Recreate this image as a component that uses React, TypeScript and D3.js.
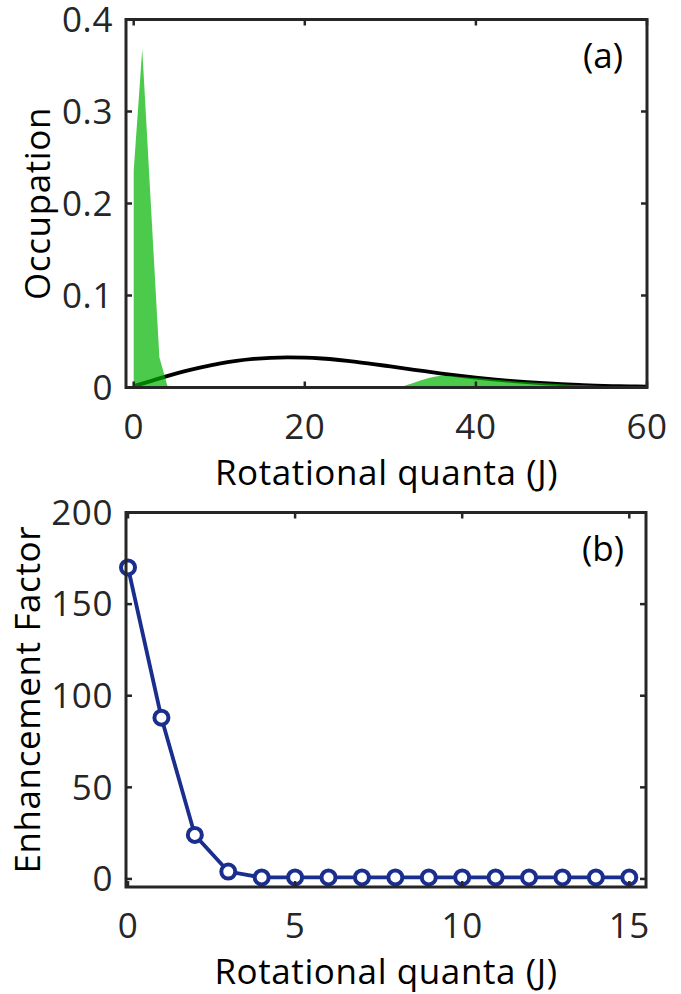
import * as d3 from "d3";

// (a) thermal distribution (black line), J = 0..60 step 2
const thermalJ = [0, 2, 4, 6, 8, 10, 12, 14, 16, 18, 20, 22, 24, 26, 28, 30, 32, 34, 36, 38, 40, 42, 44, 46, 48, 50, 52, 54, 56, 58, 60];
const thermalOcc = [0.0015, 0.007, 0.0127, 0.0178, 0.0222, 0.026, 0.0289, 0.031, 0.0323, 0.0328, 0.0325, 0.0315, 0.0299, 0.0279, 0.0255, 0.0229, 0.0203, 0.0177, 0.0152, 0.0129, 0.0108, 0.0089, 0.0072, 0.0058, 0.0046, 0.0036, 0.0028, 0.0021, 0.0016, 0.0012, 0.0009];

// (a) green area, low-J peak and high-J tail
const peakJ = [0, 1, 2, 3, 4];
const peakOcc = [0.236, 0.368, 0.2, 0.033, 0];
const tailJ = [31, 32, 33, 34, 35, 36, 38, 40, 42, 44, 46, 48, 50, 52, 54, 56, 58, 60];
const tailOcc = [0, 0.003, 0.006, 0.009, 0.0115, 0.0128, 0.0118, 0.0102, 0.0087, 0.0071, 0.0057, 0.0045, 0.0035, 0.0026, 0.0019, 0.0013, 0.0008, 0.0004];

// (b) enhancement factor per J
const enhJ = [0, 1, 2, 3, 4, 5, 6, 7, 8, 9, 10, 11, 12, 13, 14, 15];
const enhVal = [170, 88, 24, 4, 0.8, 0.8, 0.8, 0.8, 0.8, 0.8, 0.8, 0.8, 0.8, 0.8, 0.8, 0.8];

const ticksA_x = [0, 20, 40, 60];
const ticksA_y = [0, 0.1, 0.2, 0.3, 0.4];
const ticksB_x = [0, 5, 10, 15];
const ticksB_y = [0, 50, 100, 150, 200];

const axisColor = "#262626";
const font = "'Open Sans', 'Noto Sans', sans-serif";
const fs = 35;
const ls = 0.6;

function Frame({ x, y, xt, yt, xfmt, yfmt, xlabel, ylabel, ylabelX, tag }) {
  const [x0, x1] = x.range();
  const [y0, y1] = y.range();
  const tl = 6;
  return (
    <g>
      <rect x={x0} y={y1} width={x1 - x0} height={y0 - y1} fill="none" stroke={axisColor} strokeWidth={3} />
      {xt.map((t) => (
        <g key={"x" + t}>
          <line x1={x(t)} x2={x(t)} y1={y0} y2={y0 - tl} stroke={axisColor} strokeWidth={2.5} />
          <line x1={x(t)} x2={x(t)} y1={y1} y2={y1 + tl} stroke={axisColor} strokeWidth={2.5} />
          <text x={x(t)} y={y0 + 51} textAnchor="middle" fontSize={fs} letterSpacing={ls} fill={axisColor}>
            {xfmt(t)}
          </text>
        </g>
      ))}
      {yt.map((t) => (
        <g key={"y" + t}>
          <line x1={x0} x2={x0 + tl} y1={y(t)} y2={y(t)} stroke={axisColor} strokeWidth={2.5} />
          <line x1={x1} x2={x1 - tl} y1={y(t)} y2={y(t)} stroke={axisColor} strokeWidth={2.5} />
          <text x={x0 - 13} y={y(t)} dy="0.35em" textAnchor="end" fontSize={fs} letterSpacing={ls} fill={axisColor}>
            {yfmt(t)}
          </text>
        </g>
      ))}
      <text x={(x0 + x1) / 2} y={y0 + 97} textAnchor="middle" fontSize={fs} letterSpacing={ls} fill="#000">
        {xlabel}
      </text>
      <text
        transform={`translate(${ylabelX},${(y0 + y1) / 2}) rotate(-90)`}
        textAnchor="middle"
        fontSize={fs}
        letterSpacing={ls}
        fill="#000"
      >
        {ylabel}
      </text>
      <text x={603} y={y1 + 48} textAnchor="middle" fontSize={fs} fill="#000">
        {tag}
      </text>
    </g>
  );
}

export default function App() {
  const xA = d3.scaleLinear().domain([-0.9, 60]).range([126, 647]);
  const yA = d3.scaleLinear().domain([0, 0.4]).range([387.5, 19.5]);
  const xB = d3.scaleLinear().domain([-0.06, 15.5]).range([126, 646]);
  const yB = d3.scaleLinear().domain([-4.4, 200]).range([887, 512.5]);

  const thermalLine = d3
    .line<number>()
    .x((_, i) => xA(thermalJ[i]))
    .y((d) => yA(d))
    .curve(d3.curveMonotoneX)(thermalOcc);

  const peakArea = d3
    .area<number>()
    .x((_, i) => xA(peakJ[i]))
    .y0(yA(0))
    .y1((d) => yA(d))(peakOcc);

  const tailArea = d3
    .area<number>()
    .x((_, i) => xA(tailJ[i]))
    .y0(yA(0))
    .y1((d) => yA(d))
    .curve(d3.curveMonotoneX)(tailOcc);

  const enhLine = d3
    .line<number>()
    .x((_, i) => xB(enhJ[i]))
    .y((d) => yB(d))(enhVal);

  const blue = "#1a2e8e";

  return (
    <svg
      width={681}
      height={994}
      style={{ position: "absolute", left: 0, top: 0, background: "#fff", fontFamily: font }}
    >
      <path d={thermalLine} fill="none" stroke="#000" strokeWidth={3.8} />
      <path d={peakArea} fill="#00b300" fillOpacity={0.7} />
      <path d={tailArea} fill="#00b300" fillOpacity={0.7} />
      <Frame
        x={xA}
        y={yA}
        xt={ticksA_x}
        yt={ticksA_y}
        xfmt={(t) => String(t)}
        yfmt={(t) => (t === 0 ? "0" : d3.format(".1f")(t))}
        xlabel="Rotational quanta (J)"
        ylabel="Occupation"
        ylabelX={50}
        tag="(a)"
      />

      <path d={enhLine} fill="none" stroke={blue} strokeWidth={3.8} />
      {enhVal.map((v, i) => (
        <circle key={i} cx={xB(enhJ[i])} cy={yB(v)} r={7} fill="#fff" stroke={blue} strokeWidth={4} />
      ))}
      <Frame
        x={xB}
        y={yB}
        xt={ticksB_x}
        yt={ticksB_y}
        xfmt={(t) => String(t)}
        yfmt={(t) => String(t)}
        xlabel="Rotational quanta (J)"
        ylabel="Enhancement Factor"
        ylabelX={40}
        tag="(b)"
      />
    </svg>
  );
}
